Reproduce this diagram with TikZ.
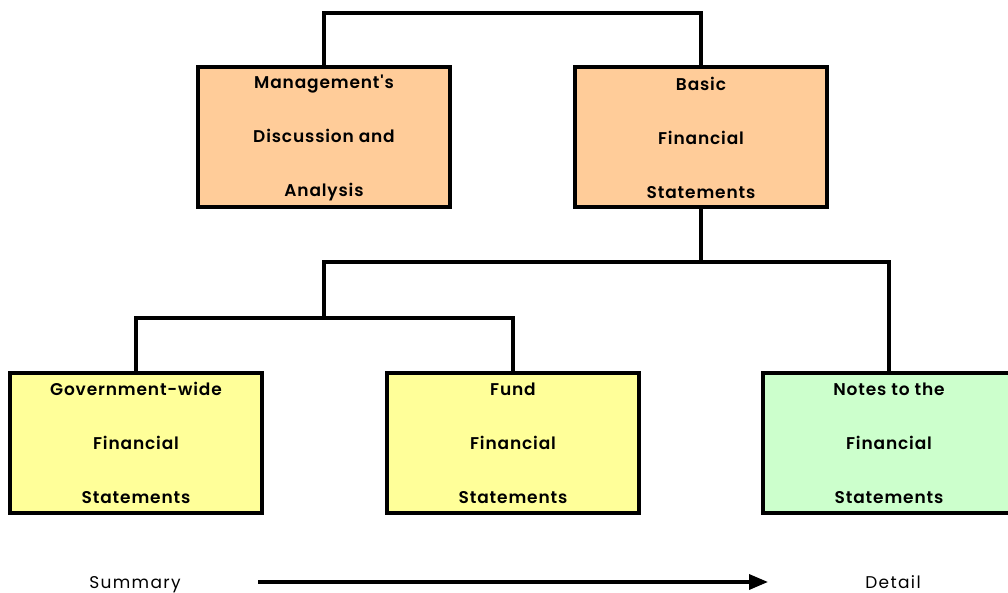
\documentclass[tikz,border=0pt]{standalone}
\usepackage{fontspec}
\setmainfont{Poppins}
\newfontfamily\boxfont[LetterSpace=5]{Poppins SemiBold}
\newfontfamily\lblfont[LetterSpace=8]{Poppins}
\usetikzlibrary{arrows.meta}
\definecolor{orangefill}{HTML}{FFCC99}
\definecolor{yellowfill}{HTML}{FFFF99}
\definecolor{greenfill}{HTML}{CCFFCC}
\tikzset{
  box/.style={draw=black, line width=4pt, minimum width=252pt, minimum height=140pt,
    inner sep=0pt, align=center, font=\boxfont\fontsize{17}{54}\selectfont},
  link/.style={draw=black, line width=4pt},
  lbl/.style={font=\lblfont\fontsize{17}{18}\selectfont, inner sep=0pt, anchor=base}
}
\begin{document}
\begin{tikzpicture}[x=1pt,y=-1pt]
\useasboundingbox (0,0) rectangle (1008,593);
\clip (0,0) rectangle (1008,593);
\node[box, fill=orangefill] (mda) at (324,137.5) {Management's\\Discussion and\\Analysis};
\node[box, fill=orangefill] (bfs) at (701,137.5) {Basic\\Financial\\Statements};
\node[box, fill=yellowfill] (gw) at (136,443) {Government-wide\\Financial\\Statements};
\node[box, fill=yellowfill] (fund) at (513,443) {Fund\\Financial\\Statements};
\node[box, fill=greenfill] (notes) at (889,443) {Notes to the\\Financial\\Statements};
\coordinate (top) at (324,13);
\coordinate (j2) at (324,262);
\coordinate (j3) at (324,318);
\draw[link] (mda.north) -- (top) -| (bfs.north);
\draw[link] (bfs.south) -- (bfs.south |- j2);
\draw[link] (j3) -- (j2) -| (notes.north);
\draw[link] (gw.north) |- (j3) -| (fund.north);
\node[lbl] (sum) at (135,588) {Summary};
\node[lbl] (det) at (893,588) {Detail};
\coordinate (as) at (258,582);
\coordinate (ae) at (768,582);
\draw[line width=3.5pt, -{Triangle[length=19pt,width=15pt]}] (as) -- (ae);
\end{tikzpicture}
\end{document}
